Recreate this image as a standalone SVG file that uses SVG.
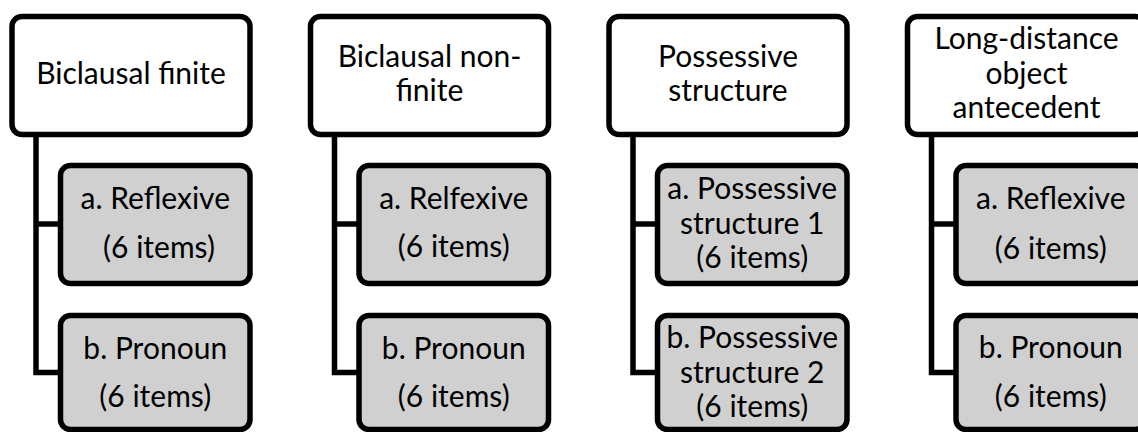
<svg xmlns="http://www.w3.org/2000/svg" width="1138" height="432" viewBox="0 0 1138 432">
<style>
.top{fill:#ffffff;stroke:#000;stroke-width:5.5}
.child{fill:#d0d0d0;stroke:#000;stroke-width:5.5}
.conn{fill:none;stroke:#000;stroke-width:5.5;stroke-linejoin:miter}
text{font-family:Lato,"Liberation Sans",sans-serif;font-size:30px;fill:#000;text-anchor:middle}
</style>
<rect x="0" y="0" width="1138" height="432" fill="#ffffff"/>
<g id="connectors">
<path class="conn" d="M36 134 V372.5 H60.5 M36 224 H60.5"/>
<path class="conn" d="M334.5 134 V372.5 H359 M334.5 224 H359"/>
<path class="conn" d="M633 134 V372.5 H657.5 M633 224 H657.5"/>
<path class="conn" d="M931.5 134 V372.5 H956 M931.5 224 H956"/>
</g>
<g id="col1-top"><rect class="top" x="12" y="16.5" width="238" height="118" rx="10"/><text x="131" y="84">Biclausal finite</text></g>
<g id="col1-a"><rect class="child" x="60.5" y="165.5" width="189.5" height="118" rx="10"/><text x="155.25" y="209">a. Reflexive</text><text x="159" y="258">(6 items)</text></g>
<g id="col1-b"><rect class="child" x="60.5" y="315.5" width="189.5" height="114" rx="10"/><text x="155.25" y="359">b. Pronoun</text><text x="155.25" y="407">(6 items)</text></g>
<g id="col2-top"><rect class="top" x="310.5" y="16.5" width="238" height="118" rx="10"/><text x="429.5" y="67">Biclausal non-</text><text x="429.5" y="101">finite</text></g>
<g id="col2-a"><rect class="child" x="359" y="165.5" width="189.5" height="118" rx="10"/><text x="453.75" y="209">a. Relfexive</text><text x="453.75" y="257">(6 items)</text></g>
<g id="col2-b"><rect class="child" x="359" y="315.5" width="189.5" height="114" rx="10"/><text x="453.75" y="359">b. Pronoun</text><text x="453.75" y="407">(6 items)</text></g>
<g id="col3-top"><rect class="top" x="609" y="16.5" width="238" height="118" rx="10"/><text x="728" y="67">Possessive</text><text x="728" y="101">structure</text></g>
<g id="col3-a"><rect class="child" x="657.5" y="165.5" width="189.5" height="118" rx="10"/><text x="752.25" y="199">a. Possessive</text><text x="752.25" y="234">structure 1</text><text x="752.25" y="268">(6 items)</text></g>
<g id="col3-b"><rect class="child" x="657.5" y="315.5" width="189.5" height="114" rx="10"/><text x="752.25" y="348">b. Possessive</text><text x="752.25" y="382.5">structure 2</text><text x="752.25" y="417">(6 items)</text></g>
<g id="col4-top"><rect class="top" x="907.5" y="16.5" width="238" height="118" rx="10"/><text x="1026.5" y="49">Long-distance</text><text x="1026.5" y="84">object</text><text x="1026.5" y="118">antecedent</text></g>
<g id="col4-a"><rect class="child" x="956" y="165.5" width="189.5" height="118" rx="10"/><text x="1050.75" y="209">a. Reflexive</text><text x="1050.75" y="259">(6 items)</text></g>
<g id="col4-b"><rect class="child" x="956" y="315.5" width="189.5" height="114" rx="10"/><text x="1050.75" y="358">b. Pronoun</text><text x="1050.75" y="407">(6 items)</text></g>
</svg>
